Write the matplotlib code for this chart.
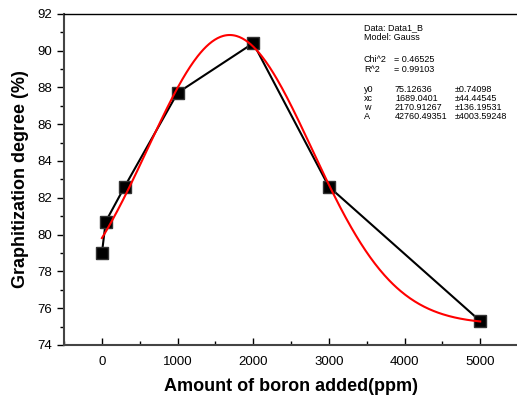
import numpy as np
import matplotlib
matplotlib.use('Agg')
import matplotlib.pyplot as plt
from matplotlib.ticker import MultipleLocator

plt.rcParams['font.family'] = ['Liberation Sans', 'DejaVu Sans']

# measured data
boron = [0, 50, 300, 1000, 2000, 3000, 5000]
graph_deg = [79.0, 80.7, 82.6, 87.7, 90.4, 82.6, 75.3]

# Gauss fit parameters (as reported on the chart)
y0 = 75.12636
xc = 1689.0401
w = 2170.91267
A = 42760.49351
fit_rows = [('y0', '75.12636', '\u00b10.74098'),
            ('xc', '1689.0401', '\u00b144.44545'),
            ('w', '2170.91267', '\u00b1136.19531'),
            ('A', '42760.49351', '\u00b14003.59248')]

fig = plt.figure(figsize=(5.17, 4.03), dpi=100)
ax = fig.add_axes([0.124, 0.144, 0.878, 0.822])

xfit = np.linspace(boron[0], boron[-1], 400)
yfit = y0 + A / (w * np.sqrt(np.pi / 2)) * np.exp(-2 * ((xfit - xc) / w) ** 2)

ax.plot(boron, graph_deg, color='black', lw=1.5, marker='s', ms=8,
        mfc='black', mec='#333333', zorder=3)
ax.plot(xfit, yfit, color='red', lw=1.5, zorder=4)

ax.set_xlim(-500, 5500)
ax.set_ylim(74, 92)
ax.xaxis.set_major_locator(MultipleLocator(1000))
ax.xaxis.set_minor_locator(MultipleLocator(500))
ax.yaxis.set_major_locator(MultipleLocator(2))
ax.yaxis.set_minor_locator(MultipleLocator(1))
ax.tick_params(axis='x', which='major', direction='in', length=5, width=1, labelsize=9.5, pad=8)
ax.tick_params(axis='x', which='minor', direction='in', length=3, width=1)
ax.tick_params(axis='y', which='major', direction='out', length=5, width=1, labelsize=9.5)
ax.tick_params(axis='y', which='minor', direction='out', length=3, width=1)
for s in ['left', 'bottom']:
    ax.spines[s].set_linewidth(1.5)
    ax.spines[s].set_color('#444444')
ax.spines['top'].set_linewidth(1)
ax.spines['right'].set_linewidth(1)

ax.set_xlabel('Amount of boron added(ppm)', fontsize=13, fontweight='bold', labelpad=7)
ax.set_ylabel('Graphitization degree (%)', fontsize=13, fontweight='bold', labelpad=6)

# fit report text (pixel positions measured from the top-left corner)
fs = 6.5
def put(px, py, s):
    fig.text(px / 517, 1 - py / 403, s, fontsize=fs, va='center')

put(364, 28, 'Data: Data1_B')
put(364, 38, 'Model: Gauss')
put(364, 59, 'Chi^2')
put(394, 59, '= 0.46525')
put(364, 69, 'R^2')
put(394, 69, '= 0.99103')
for i, (name, val, err) in enumerate(fit_rows):
    put(364, 89 + 9.3 * i, name)
    put(395, 89 + 9.3 * i, val)
    put(455, 89 + 9.3 * i, err)

fig.savefig('out.png', dpi=100)
